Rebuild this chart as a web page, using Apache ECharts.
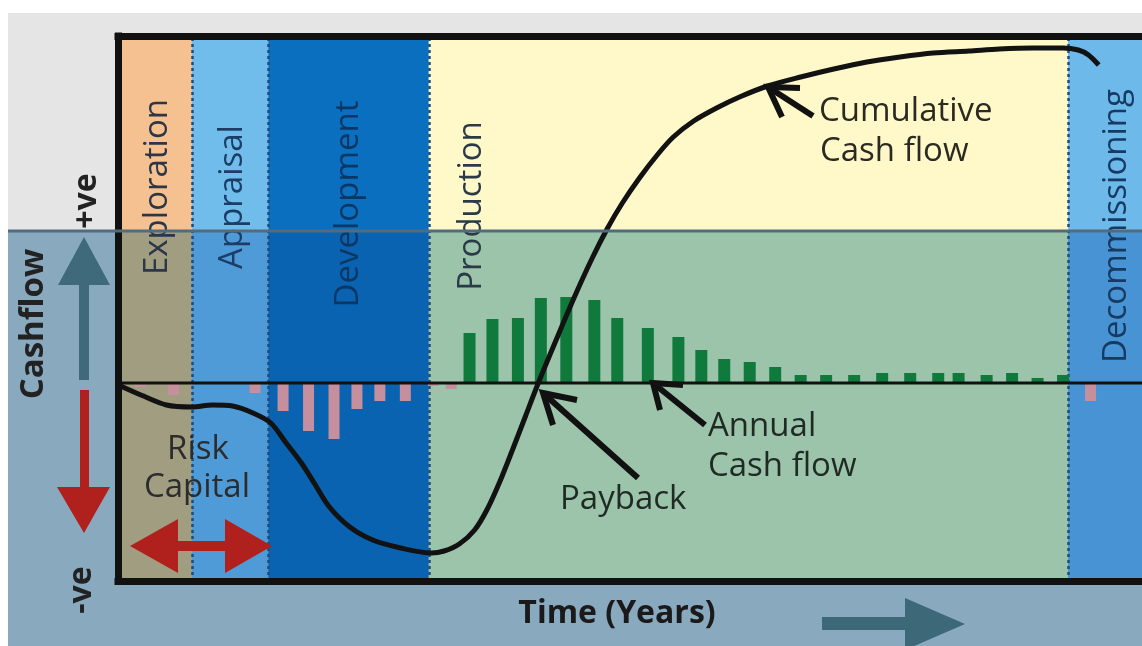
<!DOCTYPE html>
<html>
<head>
<meta charset="utf-8">
<title>Cash flow over the field life cycle</title>
<script src="https://cdn.jsdelivr.net/npm/echarts@6/dist/echarts.min.js"></script>
<style>
  html, body { margin: 0; padding: 0; background: #fff; }
  #chart { width: 1142px; height: 646px; }
</style>
</head>
<body>
<div id="chart"></div>
<script>
// phases of the field life (years)
const phaseNames = ['Exploration', 'Appraisal', 'Development', 'Production', 'Decommissioning'];
const phaseStart = [0, 2.9, 5.9, 12.2, 37.3];
const phaseEnd = [2.9, 5.9, 12.2, 37.3, 40.2];

// annual cash flow, spending years (negative)
const spendYears = [0.9, 2.2, 5.4, 6.5, 7.5, 8.5, 9.4, 10.3, 11.3, 12.4, 13.1, 38.2];
const spendValues = [-4, -12, -10, -28, -48, -56, -26, -18, -18, -3, -6, -18];

// annual cash flow, producing years (positive)
const incomeYears = [13.8, 14.7, 15.7, 16.6, 17.6, 18.7, 19.6, 20.8, 22.0, 22.9, 23.8, 24.8,
  25.8, 26.8, 27.8, 28.9, 30.0, 31.1, 32.2, 33.0, 34.1, 35.1, 36.1, 37.1];
const incomeValues = [50, 64, 65, 85, 86, 83, 65, 55, 46, 33, 24, 21,
  16, 8, 8, 8, 10, 10, 10, 10, 8, 10, 5, 8];

// cumulative cash flow
const cumYears = [0.1, 0.9, 1.9, 2.9, 3.7, 4.5, 5.3, 6.0, 6.6, 7.2, 7.7, 8.3, 9.1, 10.0, 11.1, 12.3,
  12.8, 13.4, 14.0, 14.5, 15.0, 15.5, 16.0, 16.5, 17.2, 17.9, 18.6, 19.2, 19.8, 20.5, 21.2, 21.8,
  22.6, 23.5, 24.4, 25.5, 26.8, 28.1, 29.4, 30.7, 32.0, 33.4, 34.6, 35.9, 37.1, 37.7, 38.1, 38.5];
const cumValues = [-3, -12, -22, -24, -22, -23, -30, -40, -60, -80, -100, -124, -144, -157, -165, -170,
  -168, -161, -147, -126, -98, -66, -33, 0, 43, 85, 124, 154, 180, 206, 229, 246,
  262, 275, 286, 297, 306, 314, 321, 326, 330, 332, 334, 335, 335, 333, 328, 318];

const yMin = -198, yMax = 347, xMax = 40.2;
const splitLevel = 152; // where the tinted lower half starts

const bandTop = ['#f6c190', '#70bdec', '#0b6fbf', '#fff9c9', '#6cb9ea'];
const bandLow = ['#a19d81', '#4f9bd7', '#0a63b1', '#9cc4aa', '#4893d3'];
const labelColor = ['#2b3646', '#1b3d66', '#0a3766', '#2b3a48', '#163a62'];

const chart = echarts.init(document.getElementById('chart'));

const bands = [];
phaseNames.forEach((name, i) => {
  bands.push([{ xAxis: phaseStart[i], yAxis: splitLevel, itemStyle: { color: bandTop[i] } },
              { xAxis: phaseEnd[i], yAxis: yMax }]);
  bands.push([{ xAxis: phaseStart[i], yAxis: yMin, itemStyle: { color: bandLow[i] } },
              { xAxis: phaseEnd[i], yAxis: splitLevel }]);
});

const frameLine = { show: true, onZero: false, lineStyle: { color: '#111', width: 7, cap: 'square' } };
const hidden = { show: false };

const font = '"Open Sans", "DejaVu Sans", sans-serif';
const black = '#111';

function txt(text, x, y, size, opts) {
  opts = opts || {};
  return {
    type: 'text', x: x, y: y, z: 30,
    rotation: opts.rot ? Math.PI / 2 : 0,
    style: {
      text: text, fontFamily: font, fontSize: size,
      fontWeight: opts.bold ? 'bold' : 'normal',
      fill: opts.color || '#222',
      align: opts.align || 'center', verticalAlign: 'middle'
    }
  };
}
function stroke(points) {
  return { type: 'polyline', z: 30, shape: { points: points },
           style: { stroke: black, lineWidth: 6, fill: null, lineJoin: 'miter' } };
}
function poly(points, color) {
  return { type: 'polygon', z: 30, shape: { points: points }, style: { fill: color } };
}

const option = {
  animation: false,
  grid: { left: 118, right: 0, top: 36, bottom: 65 },
  xAxis: [
    { type: 'value', min: 0, max: xMax, position: 'bottom', z: 20,
      axisLine: frameLine, axisTick: hidden, axisLabel: hidden, splitLine: hidden },
    { type: 'value', min: 0, max: xMax, position: 'top', z: 20,
      axisLine: frameLine, axisTick: hidden, axisLabel: hidden, splitLine: hidden }
  ],
  yAxis: {
    type: 'value', min: yMin, max: yMax, z: 20,
    axisLine: frameLine, axisTick: hidden, axisLabel: hidden, splitLine: hidden
  },
  graphic: [
    { type: 'rect', z: 0, shape: { x: 8, y: 13, width: 1134, height: 218 }, style: { fill: '#e5e5e5' } },
    { type: 'rect', z: 0, shape: { x: 8, y: 231, width: 1134, height: 415 }, style: { fill: '#89a9bf' } },
    { type: 'line', z: 40, shape: { x1: 8, y1: 231, x2: 1142, y2: 231 }, style: { stroke: '#536c7c', lineWidth: 3 } },

    // left side: direction of cash flow
    txt('+ve', 87, 201, 32, { rot: true, bold: true }),
    txt('Cashflow', 34, 324, 33, { rot: true, bold: true }),
    txt('-ve', 82, 590, 32, { rot: true, bold: true }),
    poly([[84, 237], [110, 285], [89, 285], [89, 380], [79, 380], [79, 285], [58, 285]], '#3e6a7c'),
    poly([[80, 390], [89, 390], [89, 487], [110, 487], [84, 533], [57, 487], [80, 487]], '#b0201c'),

    // time axis
    txt('Time (Years)', 617, 614, 32, { bold: true, color: '#1a1a1a' }),
    poly([[822, 617], [905, 617], [905, 598], [965, 624], [905, 650], [905, 630], [822, 630]], '#3d6878'),

    // phase names
    txt(phaseNames[0], 158, 187, 33, { rot: true, color: labelColor[0] }),
    txt(phaseNames[1], 233, 197, 33, { rot: true, color: labelColor[1] }),
    txt(phaseNames[2], 349, 204, 33, { rot: true, color: labelColor[2] }),
    txt(phaseNames[3], 472, 206, 33, { rot: true, color: labelColor[3] }),
    txt(phaseNames[4], 1117, 226, 33, { rot: true, color: labelColor[4] }),

    // risk capital
    txt('Risk', 198, 450, 33, { color: '#2c2c2c' }),
    txt('Capital', 197, 488, 33, { color: '#2c2c2c' }),
    poly([[130, 546], [178, 519], [178, 541], [225, 541], [225, 519], [272, 546],
          [225, 573], [225, 551], [178, 551], [178, 573]], '#b0201c'),

    // annotations
    txt('Cumulative', 819, 112, 33, { align: 'left', color: '#2a2a22' }),
    txt('Cash flow', 820, 152, 33, { align: 'left', color: '#2a2a22' }),
    stroke([[800, 88], [768, 87], [782, 117]]),
    stroke([[768, 87], [813, 116]]),

    txt('Payback', 560, 500, 33, { align: 'left', color: '#1f2a24' }),
    stroke([[577, 400], [543, 393], [553, 425]]),
    stroke([[543, 393], [638, 478]]),

    txt('Annual', 708, 427, 33, { align: 'left', color: '#1f2a24' }),
    txt('Cash flow', 708, 467, 33, { align: 'left', color: '#1f2a24' }),
    stroke([[683, 385], [653, 383], [660, 410]]),
    stroke([[653, 383], [705, 425]])
  ],
  series: [
    {
      name: 'Phases',
      type: 'line',
      data: [],
      z: 1,
      silent: true,
      markArea: { silent: true, z: 1, label: { show: false }, data: bands },
      markLine: {
        silent: true, z: 2, symbol: 'none', label: { show: false },
        lineStyle: { color: '#1f4c7c', width: 2.5, type: [3, 3] },
        data: phaseStart.slice(1).map(x => ({ xAxis: x }))
      }
    },
    {
      name: 'Annual Cash flow (spend)',
      type: 'bar',
      z: 3,
      barWidth: 11,
      barGap: '-100%',
      itemStyle: { color: '#c68f9e' },
      data: spendYears.map((x, i) => [x, spendValues[i]])
    },
    {
      name: 'Annual Cash flow',
      type: 'bar',
      z: 3,
      barWidth: 12,
      barGap: '-100%',
      itemStyle: { color: '#107a3d' },
      data: incomeYears.map((x, i) => [x, incomeValues[i]])
    },
    {
      name: 'Zero',
      type: 'line',
      z: 4,
      silent: true,
      showSymbol: false,
      lineStyle: { color: black, width: 3 },
      data: [[0, 0], [xMax, 0]]
    },
    {
      name: 'Cumulative Cash flow',
      type: 'line',
      z: 6,
      smooth: 0.3,
      showSymbol: false,
      lineStyle: { color: '#121212', width: 5 },
      data: cumYears.map((x, i) => [x, cumValues[i]])
    }
  ]
};

chart.setOption(option);
</script>
</body>
</html>
